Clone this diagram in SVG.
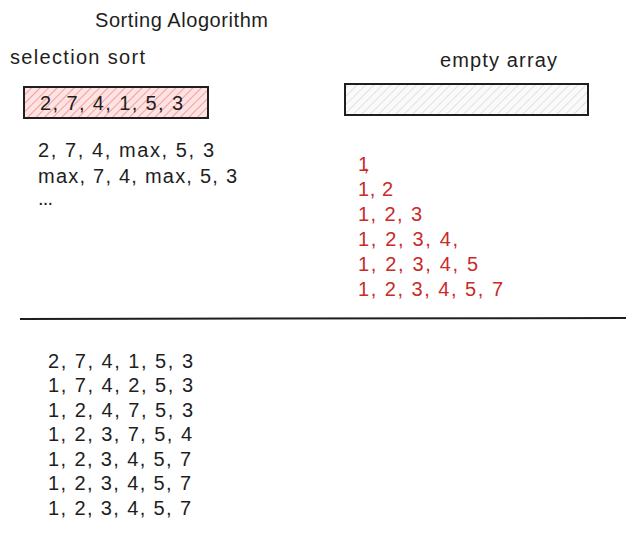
<svg xmlns="http://www.w3.org/2000/svg" width="634" height="534" viewBox="0 0 634 534">
<defs>
<pattern id="hatchRed" patternUnits="userSpaceOnUse" width="6" height="6" patternTransform="rotate(45)">
<rect width="6" height="6" fill="#ffe3e3"/>
<line x1="0" y1="0" x2="0" y2="6" stroke="#e8797a" stroke-width="1.3"/>
</pattern>
<pattern id="hatchGray" patternUnits="userSpaceOnUse" width="6" height="6" patternTransform="rotate(45)">
<rect width="6" height="6" fill="#fafafa"/>
<line x1="0" y1="0" x2="0" y2="6" stroke="#d0d3d6" stroke-width="1.2"/>
</pattern>
</defs>
<style>
text{font-family:"Liberation Sans","DejaVu Sans",sans-serif;font-size:20px;fill:#1e1e1e}
.red{fill:#c92a2a}
.box{stroke:#1e1e1e;stroke-width:2}
</style>
<rect width="634" height="534" fill="#ffffff"/>
<g id="title"><text x="95" y="27" textLength="173">Sorting Alogorithm</text></g>
<g id="selection-label"><text x="10" y="64" textLength="135">selection sort</text></g>
<g id="array-box">
<rect class="box" x="24" y="87" width="184" height="31" fill="url(#hatchRed)"/>
<text x="40" y="110" textLength="143">2, 7, 4, 1, 5, 3</text>
</g>
<g id="empty-label"><text x="440" y="67" textLength="117">empty array</text></g>
<g id="empty-box">
<rect class="box" x="345" y="84" width="243" height="31" fill="url(#hatchGray)"/>
</g>
<g id="steps-left">
<text x="38" y="157" textLength="176">2, 7, 4, max, 5, 3</text>
<text x="38" y="183" textLength="199">max, 7, 4, max, 5, 3</text>
<text x="38" y="205" textLength="15">...</text>
</g>
<g id="steps-right">
<text class="red" x="358" y="171" textLength="11">1,</text>
<text class="red" x="358" y="196" textLength="35">1, 2</text>
<text class="red" x="358" y="221" textLength="64">1, 2, 3</text>
<text class="red" x="358" y="246" textLength="100">1, 2, 3, 4,</text>
<text class="red" x="358" y="271" textLength="120">1, 2, 3, 4, 5</text>
<text class="red" x="358" y="296" textLength="145">1, 2, 3, 4, 5, 7</text>
</g>
<g id="connectors">
<line x1="20" y1="319" x2="626" y2="318" stroke="#1e1e1e" stroke-width="2"/>
</g>
<g id="steps-bottom">
<text x="48" y="368" textLength="145">2, 7, 4, 1, 5, 3</text>
<text x="48" y="392" textLength="145">1, 7, 4, 2, 5, 3</text>
<text x="48" y="417" textLength="145">1, 2, 4, 7, 5, 3</text>
<text x="48" y="441" textLength="144">1, 2, 3, 7, 5, 4</text>
<text x="48" y="466" textLength="143">1, 2, 3, 4, 5, 7</text>
<text x="48" y="490" textLength="143">1, 2, 3, 4, 5, 7</text>
<text x="48" y="515" textLength="143">1, 2, 3, 4, 5, 7</text>
</g>
</svg>
